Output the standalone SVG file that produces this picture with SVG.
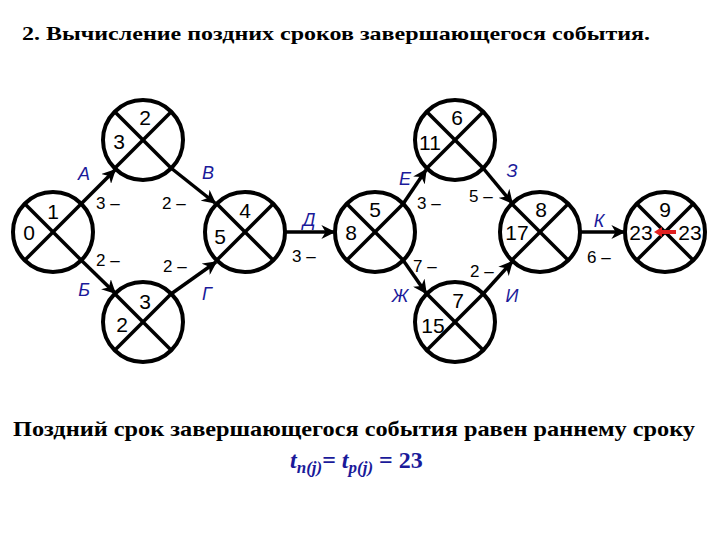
<svg xmlns="http://www.w3.org/2000/svg" width="720" height="540" viewBox="0 0 720 540">
<defs>
<style>
.c{fill:#fff;stroke:#000;stroke-width:4}
.x{stroke:#000;stroke-width:3.5}
.n{font-family:"Liberation Sans",Arial,sans-serif;font-size:21px;text-anchor:middle;fill:#000}
.l{font-family:"Liberation Sans",Arial,sans-serif;font-size:17px;fill:#000}
.b{font-family:"Liberation Sans",Arial,sans-serif;font-size:18px;font-style:italic;fill:#1a1a9a;text-anchor:middle}
.s{font-family:"Liberation Serif","Times New Roman",serif;font-weight:bold;fill:#000}
.a{stroke:#000;stroke-width:3.5;fill:none;marker-end:url(#ah)}
</style>
<marker id="ah" viewBox="0 0 10 10" refX="9" refY="5" markerWidth="4" markerHeight="4" orient="auto" markerUnits="strokeWidth"><path d="M0,0L10,5L0,10L3,5z" fill="#000"/></marker>
<g id="node"><circle class="c" r="40"/><line class="x" x1="-28" y1="-28" x2="28" y2="28"/><line class="x" x1="28" y1="-28" x2="-28" y2="28"/></g>
</defs>
<rect width="720" height="540" fill="#fff"/>
<text class="s" x="22" y="40" font-size="19" textLength="628" lengthAdjust="spacingAndGlyphs">2. Вычисление поздних сроков завершающегося события.</text>
<g id="connectors">
<line class="a" x1="81" y1="204" x2="115" y2="170"/>
<line class="a" x1="171" y1="168" x2="215" y2="203"/>
<line class="a" x1="81" y1="260" x2="115" y2="293"/>
<line class="a" x1="171" y1="294" x2="216" y2="262"/>
<line class="a" x1="285" y1="232" x2="334" y2="232"/>
<line class="a" x1="403" y1="204" x2="426" y2="170"/>
<line class="a" x1="483" y1="168" x2="512" y2="203"/>
<line class="a" x1="403" y1="260" x2="426" y2="293"/>
<line class="a" x1="483" y1="294" x2="512" y2="262"/>
<line class="a" x1="580" y1="232" x2="624" y2="232"/>
<text class="b" x="84" y="180">А</text><text class="b" x="208" y="179">В</text>
<text class="b" x="84" y="296">Б</text><text class="b" x="207" y="300">Г</text>
<text class="b" x="309" y="226">Д</text><text class="b" x="405" y="185">Е</text>
<text class="b" x="512" y="177">З</text><text class="b" x="400" y="302">Ж</text>
<text class="b" x="512" y="302">И</text><text class="b" x="599" y="227">К</text>
<text class="l" x="96" y="209">3 –</text><text class="l" x="162" y="209">2 –</text>
<text class="l" x="96" y="266">2 –</text><text class="l" x="163" y="272">2 –</text>
<text class="l" x="292" y="262">3 –</text><text class="l" x="417" y="209">3 –</text>
<text class="l" x="469" y="202">5 –</text><text class="l" x="413" y="272">7 –</text>
<text class="l" x="470" y="277">2 –</text><text class="l" x="587" y="263">6 –</text>
</g>
<g id="n1"><use href="#node" x="53" y="232"/><text class="n" x="53" y="219">1</text><text class="n" x="29" y="240">0</text></g>
<g id="n2"><use href="#node" x="143" y="140"/><text class="n" x="145" y="125">2</text><text class="n" x="119" y="149">3</text></g>
<g id="n3"><use href="#node" x="143" y="322"/><text class="n" x="145" y="309">3</text><text class="n" x="122" y="332">2</text></g>
<g id="n4"><use href="#node" x="245" y="232"/><text class="n" x="245" y="218">4</text><text class="n" x="220" y="244">5</text></g>
<g id="n5"><use href="#node" x="375" y="232"/><text class="n" x="375" y="217">5</text><text class="n" x="351" y="240">8</text></g>
<g id="n6"><use href="#node" x="455" y="140"/><text class="n" x="457" y="125">6</text><text class="n" x="430" y="150">11</text></g>
<g id="n7"><use href="#node" x="455" y="322"/><text class="n" x="458" y="308">7</text><text class="n" x="433" y="333">15</text></g>
<g id="n8"><use href="#node" x="540" y="232"/><text class="n" x="541" y="217">8</text><text class="n" x="517" y="240">17</text></g>
<g id="n9"><use href="#node" x="665" y="232"/><text class="n" x="665" y="217">9</text><text class="n" x="641" y="240">23</text><text class="n" x="690" y="240">23</text>
<line x1="676" y1="232" x2="658" y2="232" stroke="#e02020" stroke-width="4"/><path d="M654,232L662,227L662,237z" fill="#e02020"/></g>
<text class="s" x="13" y="436" font-size="21" textLength="682" lengthAdjust="spacingAndGlyphs">Поздний срок завершающегося события равен раннему сроку</text>
<text class="s" x="290" y="468" font-size="24" fill="#1a1a9a" style="fill:#1a1a9a"><tspan font-style="italic">t</tspan><tspan font-style="italic" font-size="17" dy="5">п(j)</tspan><tspan dy="-5">= </tspan><tspan font-style="italic">t</tspan><tspan font-style="italic" font-size="17" dy="5">р(j)</tspan><tspan dy="-5"> = 23</tspan></text>
</svg>
